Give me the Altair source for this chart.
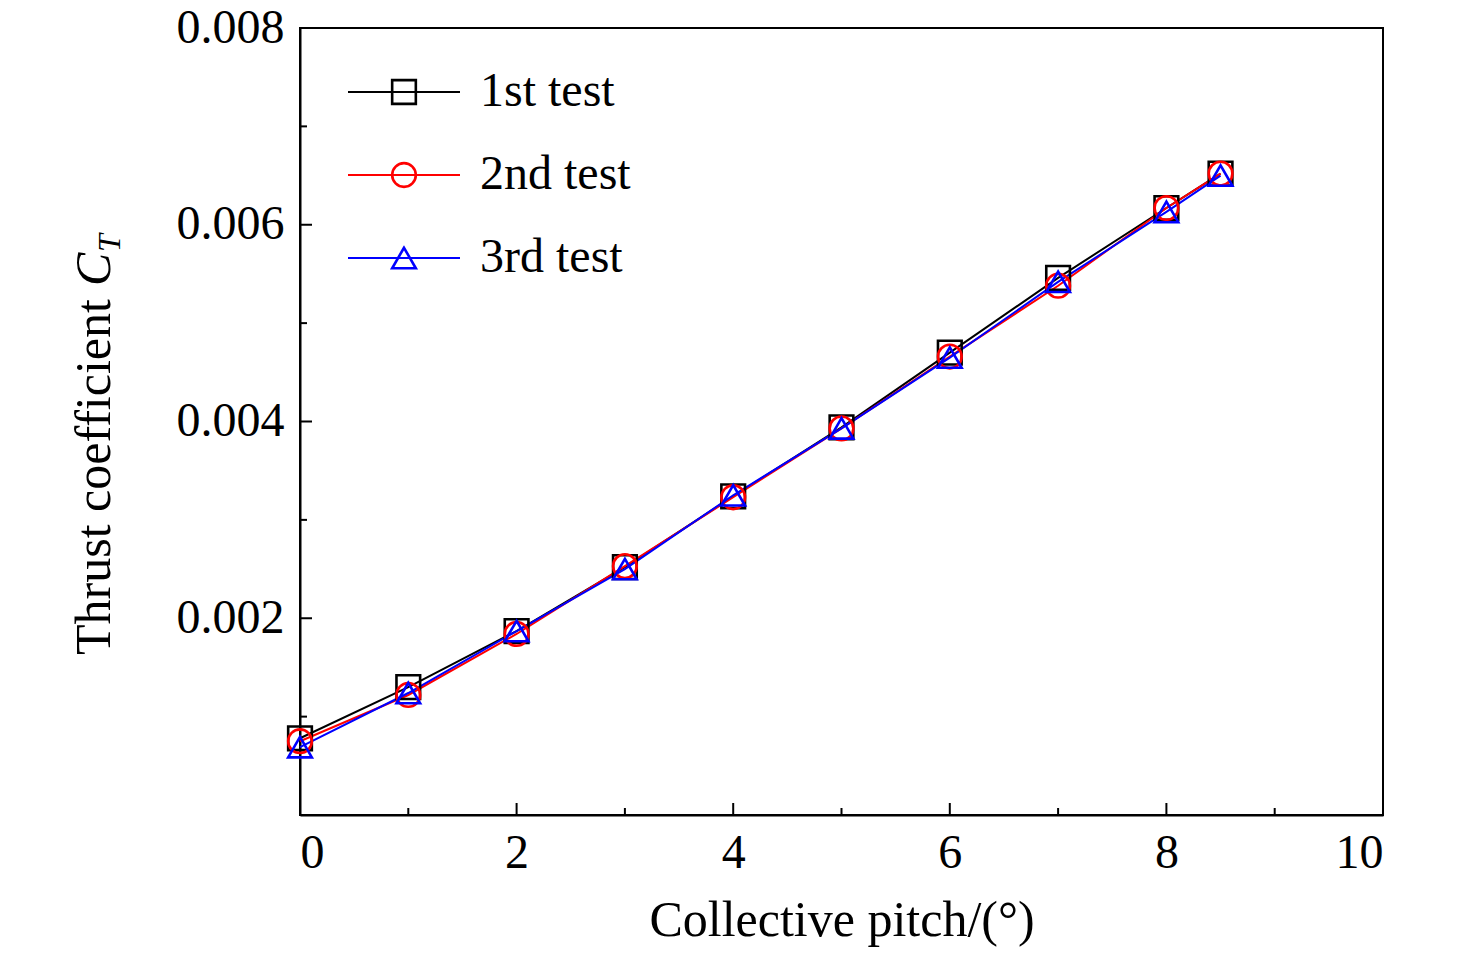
import altair as alt
import pandas as pd

pitch = [0, 1, 2, 3, 4, 5, 6, 7, 8, 8.5]
t1 = [0.00078, 0.00130, 0.00187, 0.00252, 0.00324, 0.00394, 0.00470, 0.00546, 0.00617, 0.00652]
t2 = [0.00075, 0.00122, 0.00184, 0.00253, 0.00323, 0.00393, 0.00466, 0.00538, 0.00617, 0.00652]
t3 = [0.00069, 0.00124, 0.00187, 0.00250, 0.00325, 0.00393, 0.00465, 0.00542, 0.00613, 0.00650]
names = ["1st test", "2nd test", "3rd test"]
colors = ["#000000", "#ff0000", "#0000ff"]
shapes = ["square", "circle", "triangle-up"]
x_major = [0, 2, 4, 6, 8, 10]
x_minor = [1, 3, 5, 7, 9]
y_major = [0.002, 0.004, 0.006, 0.008]
y_minor = [0.001, 0.003, 0.005, 0.007]

rows = []
for n, s in zip(names, [t1, t2, t3]):
    for x, y in zip(pitch, s):
        rows.append({"x": x, "y": y, "s": n})
df = pd.DataFrame(rows)

W, H = 1083, 787
font = "Liberation Serif"
xs = alt.Scale(domain=[0, 10], nice=False)
ys = alt.Scale(domain=[0, 0.008], nice=False)
col = alt.Color("s:N", scale=alt.Scale(domain=names, range=colors), legend=None)

xaxis = alt.Axis(values=x_major, format="d", tickSize=0, labelFontSize=48, labelFont=font,
                 titleFont=font, titleFontSize=50, titleFontWeight="normal", labelPadding=14,
                 titlePadding=18, grid=False, domainColor="black", domainWidth=2, labelColor="black",
                 titleColor="black")
yaxis = alt.Axis(values=y_major, format=".3f", tickSize=0, labelFontSize=48, labelFont=font,
                 title=None, labelPadding=16, grid=False, domainColor="black", domainWidth=2,
                 labelColor="black")

lines = alt.Chart(df).mark_line(strokeWidth=2).encode(
    x=alt.X("x:Q", scale=xs, axis=xaxis, title="Collective pitch/(°)"),
    y=alt.Y("y:Q", scale=ys, axis=yaxis),
    color=col, detail="s:N")
pts = alt.Chart(df).mark_point(size=560, strokeWidth=2.6, filled=False, opacity=1).encode(
    x=alt.X("x:Q", scale=xs), y=alt.Y("y:Q", scale=ys), color=col,
    shape=alt.Shape("s:N", scale=alt.Scale(domain=names, range=shapes), legend=None))

def xt(vals, L):
    return alt.Chart(pd.DataFrame({"v": vals})).mark_rule(color="black", strokeWidth=2).encode(
        x=alt.X("v:Q", scale=xs), y=alt.value(H), y2=alt.value(H - L))
def yt(vals, L):
    return alt.Chart(pd.DataFrame({"v": vals})).mark_rule(color="black", strokeWidth=2).encode(
        y=alt.Y("v:Q", scale=ys), x=alt.value(0), x2=alt.value(L))

leg = pd.DataFrame({"s": names, "ly": [64, 147, 230]})
legl = alt.Chart(leg).mark_rule(strokeWidth=2).encode(
    x=alt.value(48), x2=alt.value(160), y=alt.Y("ly:Q", scale=None), color=col)
legp = alt.Chart(leg).mark_point(size=560, strokeWidth=2.6, filled=False, opacity=1).encode(
    x=alt.value(104), y=alt.Y("ly:Q", scale=None), color=col,
    shape=alt.Shape("s:N", scale=alt.Scale(domain=names, range=shapes), legend=None))
legt = alt.Chart(leg).mark_text(align="left", baseline="middle", font=font, fontSize=48, color="black").encode(
    x=alt.value(180), y=alt.Y("ly:Q", scale=None), text="s:N")

ytitle = pd.DataFrame({"t": ["Thrust coefficient "], "c": ["C"], "sub": ["T"]})
yt1 = alt.Chart(ytitle).mark_text(align="left", baseline="middle", angle=270, font=font,
                                  fontSize=50, color="black").encode(
    x=alt.value(-205), y=alt.value(627), text="t:N")
yt2 = alt.Chart(ytitle).mark_text(align="left", baseline="middle", angle=270, font=font,
                                  fontSize=50, fontStyle="italic", color="black").encode(
    x=alt.value(-205), y=alt.value(258), text="c:N")
yt3 = alt.Chart(ytitle).mark_text(align="left", baseline="middle", angle=270, font=font,
                                  fontSize=32, fontStyle="italic", color="black").encode(
    x=alt.value(-190), y=alt.value(224), text="sub:N")

chart = alt.layer(lines, pts, xt(x_major, 12), xt(x_minor, 7), yt(y_major, 12), yt(y_minor, 7),
                  legl, legp, legt, yt1, yt2, yt3).properties(
    width=W, height=H, autosize=alt.AutoSizeParams(type="none"),
    padding={"left": 292, "top": 20, "right": 60, "bottom": 150}
).configure_view(stroke="black", strokeWidth=2)

chart.save("out.html", embed_options={"renderer": "svg", "actions": False})
